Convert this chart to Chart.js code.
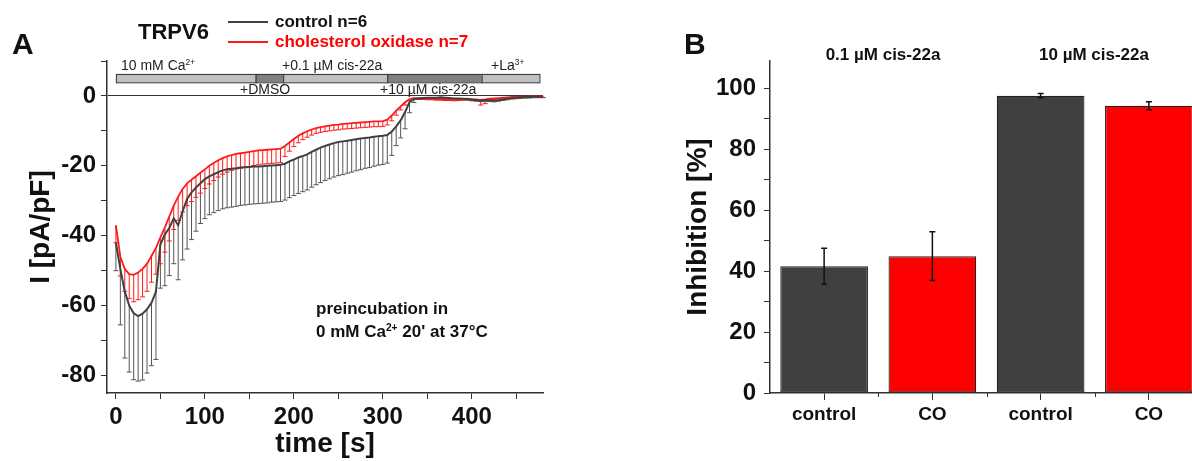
<!DOCTYPE html>
<html>
<head>
<meta charset="utf-8">
<script src="https://cdn.jsdelivr.net/npm/chart.js@4/dist/chart.umd.min.js"></script>
<style>
html, body { margin: 0; padding: 0; background: #fff; overflow: hidden; width: 1192px; height: 461px; }
body { position: relative; font-family: "Liberation Sans", Arial, sans-serif; }
.t { position: absolute; white-space: nowrap; font-weight: bold; color: #111; }
.p { position: absolute; white-space: nowrap; font-size: 14px; line-height: 16px; color: #222; }
sup { font-size: 60%; line-height: 0; vertical-align: 0.55em; }
#boxA { position: absolute; left: 0; top: 0; width: 560px; height: 461px; }
#boxB { position: absolute; left: 660px; top: 0; width: 546px; height: 461px; }
.leg { position: absolute; left: 228px; width: 40px; height: 2px; }
</style>
</head>
<body>
<div id="boxA"><canvas id="chartA"></canvas></div>
<div id="boxB"><canvas id="chartB"></canvas></div>

<div class="t" style="left:12px;top:27px;font-size:30px;line-height:34px;">A</div>
<div class="t" style="left:138px;top:19px;font-size:22px;line-height:26px;">TRPV6</div>
<div class="leg" style="top:21px;background:#404040;"></div>
<div class="leg" style="top:41px;background:#ff1a1a;"></div>
<div class="t" style="left:275px;top:12px;font-size:17px;line-height:20px;">control n=6</div>
<div class="t" style="left:275px;top:32px;font-size:17px;line-height:20px;color:#ff0000;">cholesterol oxidase n=7</div>

<div class="p" style="left:121px;top:57px;">10 mM Ca<sup>2+</sup></div>
<div class="p" style="left:282px;top:57px;">+0.1 µM cis-22a</div>
<div class="p" style="left:491px;top:57px;">+La<sup>3+</sup></div>
<div class="p" style="left:240px;top:81px;">+DMSO</div>
<div class="p" style="left:380px;top:81px;">+10 µM cis-22a</div>

<div class="t" style="left:316px;top:298px;font-size:17px;line-height:22px;">preincubation in</div>
<div class="t" style="left:316px;top:321px;font-size:17px;line-height:22px;">0 mM Ca<sup>2+</sup> 20' at 37°C</div>

<div class="t" style="left:684px;top:27px;font-size:30px;line-height:34px;">B</div>
<div class="t" style="left:883px;top:55px;font-size:17px;line-height:20px;transform:translate(-50%,-50%);">0.1 µM cis-22a</div>
<div class="t" style="left:1094px;top:55px;font-size:17px;line-height:20px;transform:translate(-50%,-50%);">10 µM cis-22a</div>

<script>
// panel A: current density over time (mean, downward error)
const times = [
  0, 5, 10, 15, 20, 25, 30, 35, 40, 45,
  50, 55, 60, 65, 70, 75, 80, 85, 90, 95,
  100, 105, 110, 115, 120, 125, 130, 135, 140, 145,
  150, 155, 160, 165, 170, 175, 180, 185, 190, 195,
  200, 205, 210, 215, 220, 225, 230, 235, 240, 245,
  250, 255, 260, 265, 270, 275, 280, 285, 290, 295,
  300, 305, 310, 315, 320, 325, 330, 335, 340, 345,
  350, 355, 360, 365, 370, 375, 380, 385, 390, 395,
  400, 405, 410, 415, 420, 425, 430, 435, 440, 445,
  450, 455, 460, 465, 470, 475, 480
];
const ctrlMean = [
  -42, -49.5, -56, -60, -62.2, -63, -62.3, -61, -59.2, -56,
  -42.5, -39.6, -37.8, -35, -37, -33, -29.5, -27.6, -26.2, -25,
  -23.8, -23, -22.4, -21.8, -21.3, -21, -20.8, -20.7, -20.5, -20.4,
  -20.3, -20.2, -20.2, -20.1, -20, -19.9, -19.8, -19.7, -19.4, -18.7,
  -18.2, -17.6, -17.2, -16.7, -16, -15.4, -14.8, -14.3, -13.9, -13.5,
  -13.2, -13, -12.8, -12.6, -12.4, -12.2, -12, -11.9, -11.7, -11.5,
  -11.4, -11.2, -10.2, -8.7, -7, -4.6, -1.8, -0.9, -0.7, -0.6,
  -0.5, -0.5, -0.5, -0.4, -0.5, -0.6, -0.7, -0.7, -0.8, -0.9,
  -1.1, -1.2, -1.3, -1.2, -1.3, -1.4, -1.2, -1.0, -0.8, -0.6,
  -0.5, -0.4, -0.3, -0.3, -0.2, -0.2, -0.2
];
const ctrlErr = [
  8, 16, 19, 19, 19, 18.6, 19, 18.3, 18, 19.4,
  12.5, 14.7, 13.6, 13, 15.6, 13.9, 14.3, 13.5, 12.5, 11.5,
  11.3, 11, 11, 11, 11, 11, 11, 10.9, 10.8, 10.8,
  10.7, 10.7, 10.6, 10.6, 10.6, 10.5, 10.5, 10.5, 10.4, 10.4,
  10.3, 10.3, 10.2, 10.2, 10.1, 10, 10, 9.9, 9.8, 9.7,
  9.6, 9.5, 9.3, 9.2, 9, 8.9, 8.7, 8.6, 8.4, 8.3,
  8.2, 8, 6.8, 5.5, 5, 4.8, 3, 1, 0.3, 0.3,
  0.3, 0.3, 0.3, 0.3, 0.3, 0.3, 0.3, 0.3, 0.3, 0.3,
  0.3, 0.3, 0.3, 0.3, 0.3, 0.3, 0.3, 0.3, 0.3, 0.3,
  0.3, 0.3, 0.3, 0.3, 0.3, 0.3, 0.3
];
const coMean = [
  -37, -46, -49.5, -51, -51.2, -50.5, -49.5, -48, -45.8, -43.5,
  -40.5, -37.7, -34.5, -31.4, -28.8, -26.6, -25, -24, -23, -22,
  -21, -20, -19.2, -18.4, -17.8, -17.3, -16.9, -16.6, -16.4, -16.2,
  -16, -15.8, -15.6, -15.5, -15.4, -15.3, -15.2, -15.1, -14.3, -13.3,
  -12.3, -11.4, -10.7, -10.1, -9.6, -9.2, -8.9, -8.7, -8.5, -8.3,
  -8.2, -8, -7.9, -7.8, -7.7, -7.6, -7.5, -7.4, -7.3, -7.3,
  -7.2, -6.8, -5.6, -4.2, -3, -1.8, -0.9, -0.6, -0.6, -0.7,
  -0.8, -0.8, -0.9, -0.9, -1.0, -1.0, -1.1, -1.0, -0.9, -0.8,
  -0.9, -1.0, -1.1, -1.0, -0.8, -0.7, -0.6, -0.5, -0.4, -0.3,
  -0.3, -0.2, -0.2, -0.1, -0.1, -0.1, -0.1
];
const coErr = [
  5, 5.5, 6.4, 7, 7.7, 7.8, 8, 7.9, 7.5, 7.5,
  7.5, 7, 7, 6.8, 6.8, 6.6, 6.4, 6.2, 6, 5.8,
  5.5, 5.2, 5, 4.8, 4.6, 4.5, 4.4, 4.3, 4.3, 4.2,
  4.2, 4.1, 4.1, 4, 4, 4, 4, 4, 3, 2.5,
  2.2, 2, 1.8, 1.7, 1.6, 1.5, 1.5, 1.5, 1.5, 1.5,
  1.5, 1.5, 1.5, 1.5, 1.5, 1.5, 1.5, 1.5, 1.5, 1.5,
  1.5, 1.5, 1.5, 1.3, 1, 0.8, 0.5, 0.3, 0.3, 0.3,
  0.3, 0.3, 0.3, 0.3, 0.3, 0.3, 0.3, 0.3, 0.3, 0.3,
  0.3, 0.3, 1.5, 1.2, 0.3, 0.3, 0.3, 0.3, 0.3, 0.3,
  0.3, 0.3, 0.3, 0.3, 0.3, 0.3, 0.3
];
// solution protocol (seconds)
const protoStart = [0, 157, 188, 305, 411];
const protoEnd = [157, 188, 305, 411, 476];
const protoDark = [false, true, false, true, false];

const xTicksA = [0, 50, 100, 150, 200, 250, 300, 350, 400, 450];
const yTicksA = [-80, -70, -60, -50, -40, -30, -20, -10, 0, 10];

// panel B: inhibition
const groups = ["control", "CO", "control", "CO"];
const inhibition = [41.6, 44.9, 97.6, 94.3];
const inhibitionErr = [5.9, 8, 0.7, 1.3];
const yTicksB = [0, 10, 20, 30, 40, 50, 60, 70, 80, 90, 100];

const FAM = '"Liberation Sans", Arial, sans-serif';
const GREY = "#404040";
const RED = "#ff1a1a";

const errA = {
    id: "errA",
    beforeDatasetsDraw(chart) {
        const ctx = chart.ctx, xs = chart.scales.x, ys = chart.scales.y;
        ctx.save();
        chart.data.datasets.forEach(ds => {
            ctx.strokeStyle = ds.errColor;
            ctx.lineWidth = 1;
            ds.data.forEach((p, i) => {
                const px = xs.getPixelForValue(p.x);
                const y0 = ys.getPixelForValue(p.y);
                const y1 = ys.getPixelForValue(p.y - ds.errors[i]);
                ctx.beginPath();
                ctx.moveTo(px, y0);
                ctx.lineTo(px, y1);
                ctx.moveTo(px - 2.5, y1);
                ctx.lineTo(px + 2.5, y1);
                ctx.stroke();
            });
        });
        ctx.restore();
    }
};

const protocol = {
    id: "protocol",
    afterDraw(chart) {
        const ctx = chart.ctx, xs = chart.scales.x, ys = chart.scales.y;
        const top = ys.getPixelForValue(6.3), bot = ys.getPixelForValue(3.9);
        ctx.save();
        ctx.lineWidth = 1;
        ctx.strokeStyle = "#333";
        protoStart.forEach((s, i) => {
            const a = xs.getPixelForValue(s), b = xs.getPixelForValue(protoEnd[i]);
            ctx.fillStyle = protoDark[i] ? "#808080" : "#c0c0c0";
            ctx.fillRect(a, top, b - a, bot - top);
            ctx.strokeRect(a + 0.5, top + 0.5, b - a, bot - top);
        });
        ctx.restore();
    }
};

new Chart(document.getElementById("chartA"), {
    type: "line",
    data: {
        datasets: [
            {
                label: "control n=6",
                data: times.map((t, i) => ({x: t, y: ctrlMean[i]})),
                errors: ctrlErr,
                errColor: "#555",
                borderColor: GREY,
                borderWidth: 2,
                pointRadius: 0,
                tension: 0,
                order: 1
            },
            {
                label: "cholesterol oxidase n=7",
                data: times.map((t, i) => ({x: t, y: coMean[i]})),
                errors: coErr,
                errColor: RED,
                borderColor: RED,
                borderWidth: 1.8,
                pointRadius: 0,
                tension: 0,
                order: 2
            }
        ]
    },
    options: {
        responsive: true,
        maintainAspectRatio: false,
        animation: false,
        layout: {padding: {top: 61, right: 17, bottom: 0, left: 0}},
        plugins: {legend: {display: false}, tooltip: {enabled: false}},
        scales: {
            x: {
                type: "linear",
                min: -10,
                max: 480,
                afterBuildTicks: s => { s.ticks = xTicksA.map(v => ({value: v})); },
                afterFit: s => { s.height = 68; },
                ticks: {
                    autoSkip: false,
                    maxRotation: 0,
                    padding: 4,
                    color: "#111",
                    font: {family: FAM, size: 24, weight: "bold"},
                    callback: v => v % 100 === 0 ? String(v) : ""
                },
                grid: {drawOnChartArea: false, tickColor: "#333", tickLength: 6},
                border: {color: "#333", width: 1.5},
                title: {
                    display: true,
                    text: "time [s]",
                    color: "#111",
                    font: {family: FAM, size: 28, weight: "bold"},
                    padding: {top: 0, bottom: 0}
                }
            },
            y: {
                min: -85,
                max: 10,
                afterBuildTicks: s => { s.ticks = yTicksA.map(v => ({value: v})); },
                afterFit: s => { s.width = 107; },
                ticks: {
                    padding: 5,
                    color: "#111",
                    font: {family: FAM, size: 24, weight: "bold"},
                    callback: v => v % 20 === 0 ? String(v) : ""
                },
                grid: {
                    color: c => c.tick && c.tick.value === 0 ? "#333" : "rgba(0,0,0,0)",
                    tickColor: "#333",
                    tickLength: 6
                },
                border: {color: "#333", width: 1.5},
                title: {
                    display: true,
                    text: "I [pA/pF]",
                    color: "#111",
                    font: {family: FAM, size: 28, weight: "bold"},
                    padding: {top: 24, bottom: 0}
                }
            }
        }
    },
    plugins: [errA, protocol]
});

const errB = {
    id: "errB",
    afterDatasetsDraw(chart) {
        const ctx = chart.ctx, xs = chart.scales.x, ys = chart.scales.y;
        ctx.save();
        ctx.strokeStyle = "#111";
        ctx.lineWidth = 1.5;
        inhibition.forEach((v, i) => {
            const px = xs.getPixelForValue(i);
            const hi = ys.getPixelForValue(v + inhibitionErr[i]);
            const lo = ys.getPixelForValue(v - inhibitionErr[i]);
            ctx.beginPath();
            ctx.moveTo(px, hi); ctx.lineTo(px, lo);
            ctx.moveTo(px - 3, hi); ctx.lineTo(px + 3, hi);
            ctx.moveTo(px - 3, lo); ctx.lineTo(px + 3, lo);
            ctx.stroke();
        });
        // short ticks between the categories
        const base = ys.getPixelForValue(0);
        const half = (xs.getPixelForValue(1) - xs.getPixelForValue(0)) / 2;
        ctx.strokeStyle = "#333";
        ctx.lineWidth = 1;
        ctx.beginPath();
        for (let i = 0; i < groups.length - 1; i++) {
            const bx = Math.round(xs.getPixelForValue(i) + half) + 0.5;
            ctx.moveTo(bx, base);
            ctx.lineTo(bx, base + 4);
        }
        ctx.stroke();
        ctx.restore();
    }
};

new Chart(document.getElementById("chartB"), {
    type: "bar",
    data: {
        labels: groups,
        datasets: [{
            data: inhibition,
            backgroundColor: c => groups[c.dataIndex] === "CO" ? "#ff0000" : GREY,
            borderColor: "#222",
            borderWidth: 1.2,
            borderSkipped: false,
            barPercentage: 0.81,
            categoryPercentage: 1
        }]
    },
    options: {
        responsive: true,
        maintainAspectRatio: false,
        animation: false,
        layout: {padding: {top: 61, right: 3, bottom: 0, left: 0}},
        plugins: {legend: {display: false}, tooltip: {enabled: false}},
        scales: {
            x: {
                afterFit: s => { s.height = 68; },
                ticks: {
                    padding: 3,
                    color: "#111",
                    font: {family: FAM, size: 19, weight: "bold"}
                },
                grid: {offset: false, drawOnChartArea: false, tickColor: "#333", tickLength: 7},
                border: {color: "#333", width: 1.5}
            },
            y: {
                min: 0,
                max: 109,
                afterBuildTicks: s => { s.ticks = yTicksB.map(v => ({value: v})); },
                afterFit: s => { s.width = 110; },
                ticks: {
                    padding: 8,
                    color: "#111",
                    font: {family: FAM, size: 24, weight: "bold"},
                    callback: v => v % 20 === 0 ? String(v) : ""
                },
                grid: {drawOnChartArea: false, tickColor: "#333", tickLength: 6},
                border: {color: "#333", width: 1.5},
                title: {
                    display: true,
                    text: "Inhibition [%]",
                    color: "#111",
                    font: {family: FAM, size: 28, weight: "bold"},
                    padding: {top: 21, bottom: 0}
                }
            }
        }
    },
    plugins: [errB]
});
</script>
</body>
</html>
